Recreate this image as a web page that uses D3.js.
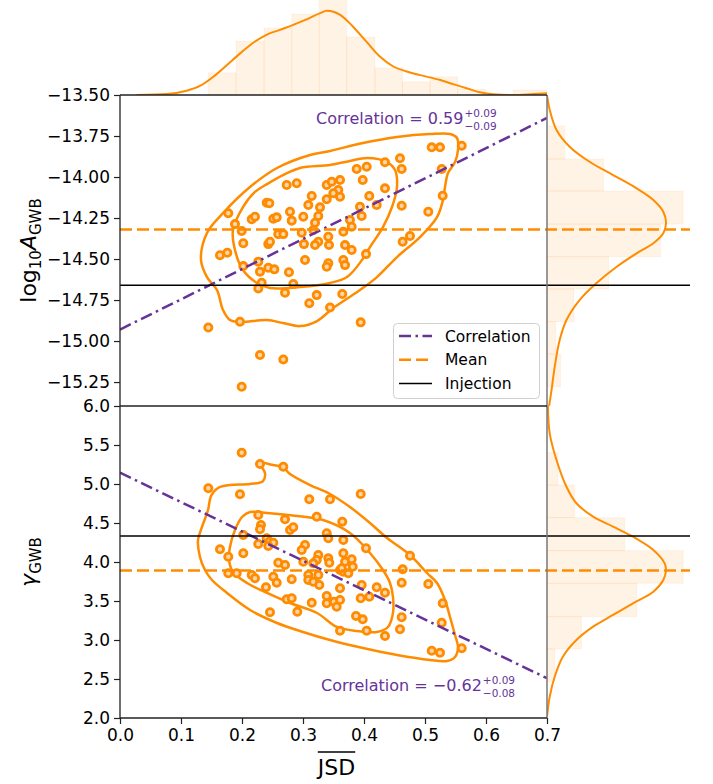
<!DOCTYPE html>
<html>
<head>
<meta charset="utf-8">
<script src="https://cdn.jsdelivr.net/npm/d3@7"></script>
<style>
  body { margin: 0; background: #fff; }
  text { font-family: "DejaVu Sans", sans-serif; }
</style>
</head>
<body>
<div id="chart"></div>
<script>
// scatter samples [JSD, value]
var topPoints = [
  [0.1775,-14.221],[0.1885,-14.287],[0.1995,-14.329],[0.2021,-14.404],[0.1639,-14.477],[0.1759,-14.462],
  [0.2021,-14.543],[0.2159,-14.258],[0.2213,-14.242],[0.2405,-14.157],[0.2448,-14.160],[0.2513,-14.254],
  [0.2569,-14.246],[0.2733,-14.049],[0.2897,-14.038],[0.2787,-14.212],[0.2815,-14.266],[0.2595,-14.348],
  [0.2677,-14.348],[0.2431,-14.409],[0.2459,-14.395],[0.2267,-14.516],[0.2295,-14.577],[0.2431,-14.553],
  [0.2530,-14.563],[0.2770,-14.581],[0.3033,-14.506],[0.3005,-14.242],[0.2979,-14.340],[0.3016,-14.409],
  [0.3143,-14.116],[0.3087,-14.171],[0.3279,-14.185],[0.3251,-14.238],[0.3197,-14.279],[0.3169,-14.323],
  [0.3251,-14.395],[0.3197,-14.415],[0.3415,-14.364],[0.3426,-14.415],[0.3389,-14.136],[0.3389,-14.049],
  [0.3470,-14.029],[0.3607,-14.018],[0.3579,-14.079],[0.3607,-14.120],[0.3661,-14.334],[0.3689,-14.415],
  [0.3661,-14.506],[0.3415,-14.526],[0.3389,-14.547],[0.2323,-14.645],[0.2267,-14.679],[0.2705,-14.706],
  [0.2841,-14.652],[0.3225,-14.720],[0.3103,-14.770],[0.3443,-14.795],[0.3644,-14.713],[0.5110,-13.819],
  [0.5246,-13.819],[0.5602,-13.809],[0.4590,-13.886],[0.4618,-13.951],[0.4344,-13.910],[0.4044,-13.937],
  [0.3880,-13.951],[0.3979,-14.018],[0.5274,-13.951],[0.4344,-14.069],[0.4087,-14.116],[0.3497,-14.099],
  [0.3934,-14.181],[0.4208,-14.171],[0.3962,-14.238],[0.4618,-14.175],[0.5290,-14.114],[0.5054,-14.212],
  [0.3770,-14.262],[0.3798,-14.303],[0.3798,-14.445],[0.3689,-14.537],[0.4033,-14.470],[0.4634,-14.395],
  [0.4754,-14.360],[0.1448,-14.917],[0.1967,-14.882],[0.2295,-15.085],[0.2677,-15.112],[0.1995,-15.279],
  [0.3946,-14.886]
];
var bottomPoints = [
  [0.1995,5.401],[0.2295,5.256],[0.2677,5.222],[0.1448,4.945],[0.1967,4.868],[0.3103,4.804],[0.3443,4.804],
  [0.2267,4.603],[0.2705,4.547],[0.3225,4.581],[0.3644,4.517],[0.2311,4.474],[0.2295,4.419],[0.2787,4.410],
  [0.2841,4.445],[0.2021,4.346],[0.3389,4.368],[0.3415,4.304],[0.3661,4.282],[0.1639,4.163],[0.1775,4.068],
  [0.2021,4.112],[0.2267,4.231],[0.2405,4.304],[0.2448,4.260],[0.2513,4.247],[0.2431,4.205],[0.3033,4.218],
  [0.2979,4.154],[0.3251,4.090],[0.3225,4.026],[0.3415,4.047],[0.3431,3.991],[0.2595,3.991],[0.2705,3.962],
  [0.3005,4.004],[0.3169,3.983],[0.3661,4.112],[0.3689,4.004],[0.3607,3.897],[0.1775,3.855],[0.1913,3.855],
  [0.2159,3.833],[0.2513,3.812],[0.2815,3.778],[0.3087,3.833],[0.3251,3.833],[0.2213,3.791],[0.2393,3.676],
  [0.2569,3.735],[0.2733,3.522],[0.2815,3.535],[0.3087,3.769],[0.3169,3.747],[0.3267,3.705],[0.2459,3.355],
  [0.2907,3.363],[0.3143,3.478],[0.3389,3.564],[0.3389,3.471],[0.3508,3.491],[0.3552,3.427],[0.3607,3.513],
  [0.3607,3.663],[0.3607,3.119],[0.3661,3.876],[0.3946,4.872],[0.4033,4.176],[0.4754,4.081],[0.3798,4.035],
  [0.3634,3.919],[0.3743,3.855],[0.3815,3.940],[0.4634,3.906],[0.4618,3.735],[0.5054,3.718],[0.3962,3.705],
  [0.4208,3.676],[0.4344,3.606],[0.3946,3.535],[0.4087,3.555],[0.3869,3.308],[0.3979,3.265],[0.4618,3.291],
  [0.4590,3.137],[0.4044,3.119],[0.4344,3.051],[0.5290,3.471],[0.5274,3.222],[0.5110,2.863],[0.5246,2.837],
  [0.5602,2.894]
];

// density contours [JSD, value]
var topOuter = [
  [0.1689,-14.220],[0.2131,-14.061],[0.2574,-13.945],[0.3115,-13.866],[0.3443,-13.841],[0.3984,-13.793],
  [0.4541,-13.756],[0.5082,-13.738],[0.5410,-13.738],[0.5525,-13.762],[0.5541,-13.835],[0.5492,-13.909],
  [0.5377,-13.976],[0.5328,-14.061],[0.5295,-14.140],[0.5197,-14.244],[0.4918,-14.366],[0.4541,-14.488],
  [0.4213,-14.610],[0.3934,-14.689],[0.3689,-14.750],[0.3475,-14.805],[0.3230,-14.878],[0.2951,-14.909],
  [0.2672,-14.890],[0.2410,-14.872],[0.1967,-14.884],[0.1803,-14.872],[0.1689,-14.811],[0.1590,-14.689],
  [0.1426,-14.610],[0.1328,-14.506],[0.1426,-14.341]
];
var topInner = [
  [0.2016,-14.183],[0.2213,-14.091],[0.2410,-14.043],[0.2672,-13.988],[0.2951,-13.945],[0.3443,-13.927],
  [0.3770,-13.902],[0.4049,-13.884],[0.4377,-13.909],[0.4508,-13.957],[0.4541,-14.061],[0.4459,-14.183],
  [0.4311,-14.305],[0.4098,-14.427],[0.3967,-14.506],[0.3721,-14.610],[0.3443,-14.646],[0.2951,-14.671],
  [0.2459,-14.677],[0.2246,-14.646],[0.2016,-14.567],[0.1885,-14.445],[0.1852,-14.323]
];
var bottomOuter = [
  [0.2295,5.269],[0.2377,5.141],[0.2344,5.038],[0.2131,5.000],[0.1803,4.987],[0.1607,4.949],[0.1492,4.846],
  [0.1443,4.667],[0.1344,4.449],[0.1279,4.282],[0.1311,4.064],[0.1393,3.897],[0.1508,3.769],[0.1754,3.603],
  [0.2131,3.385],[0.2574,3.218],[0.3000,3.103],[0.3443,3.000],[0.3984,2.897],[0.4541,2.808],[0.5082,2.744],
  [0.5361,2.731],[0.5492,2.782],[0.5541,2.910],[0.5492,3.064],[0.5410,3.295],[0.5328,3.513],[0.5197,3.731],
  [0.5033,3.859],[0.4754,4.090],[0.4377,4.308],[0.4098,4.500],[0.3770,4.705],[0.3443,4.872],[0.3115,4.987],
  [0.2787,5.128],[0.2672,5.218],[0.2508,5.244]
];
var bottomInner = [
  [0.2131,4.641],[0.2410,4.628],[0.2902,4.590],[0.3328,4.538],[0.3770,4.372],[0.4098,4.115],[0.4311,3.897],
  [0.4426,3.731],[0.4475,3.551],[0.4475,3.346],[0.4393,3.167],[0.4213,3.103],[0.3885,3.115],[0.3557,3.167],
  [0.3230,3.346],[0.2787,3.474],[0.2410,3.603],[0.2082,3.731],[0.1852,3.872],[0.1787,4.026],[0.1803,4.192],
  [0.1885,4.410],[0.2000,4.577]
];

// marginal histograms (bin edges ascending, heights)
var jsdEdges = [0.1448,0.1902,0.2361,0.2815,0.3267,0.3716,0.4180,0.4628,0.5082,0.5536,0.5995,0.6448,0.7000];
var jsdHist = [4.9,11.9,14.8,17.9,22.5,12.8,6.0,2.9,4.0,1.3,0,1.1];
var logAEdges = [-15.279,-15.079,-14.882,-14.683,-14.486,-14.287,-14.085,-13.890,-13.689];
var logAHist = [3.0,1.9,5.9,13.6,25.1,30.1,12.5,3.9];
var gammaEdges = [2.465,2.885,3.299,3.727,4.145,4.568,4.987,5.401];
var gammaHist = [1.7,7.6,19.8,30.1,17.2,6.1,2.4];

// marginal kde curves
var jsdKde = [
  [0.027,0],[0.077,0.22],[0.109,0.95],[0.131,2.0],[0.153,4.05],[0.175,6.6],[0.197,9.2],[0.219,11.6],
  [0.240,13.3],[0.262,14.4],[0.284,15.5],[0.306,16.7],[0.328,18.1],[0.339,18.6],[0.350,18.4],[0.361,17.7],
  [0.382,15.1],[0.404,11.8],[0.426,8.5],[0.448,6.3],[0.470,5.2],[0.492,4.4],[0.525,3.3],[0.546,2.4],
  [0.568,1.5],[0.590,0.6],[0.612,0.15],[0.645,0],[0.678,0.22],[0.700,0.38]
];
var logAKde = [
  [-13.5,0],[-13.591,0.6],[-13.713,2.1],[-13.815,5.0],[-13.907,9.4],[-13.988,14.6],[-14.069,19.8],
  [-14.140,23.5],[-14.212,25.7],[-14.282,26.3],[-14.343,25.7],[-14.404,23.5],[-14.465,19.8],[-14.547,15.4],
  [-14.648,10.9],[-14.750,7.2],[-14.872,4.3],[-14.994,2.8],[-15.157,1.7],[-15.299,1.0],[-15.40,0.44]
];
var gammaKde = [
  [6.0,0.2],[5.65,0.6],[5.308,2.1],[4.965,4.3],[4.753,6.5],[4.581,10.2],[4.453,14.6],[4.324,19.0],
  [4.154,23.5],[3.983,26.0],[3.897,26.3],[3.769,25.7],[3.619,23.5],[3.471,19.0],[3.321,14.6],[3.171,10.2],
  [3.0,6.5],[2.786,3.5],[2.529,1.7],[2.273,0.6],[2.017,0]
];

var meanLogA = -14.32, injLogA = -14.66;
var meanGamma = 3.89, injGamma = 4.333;
var corrTop = [[0, -14.93], [0.7, -13.64]];
var corrBottom = [[0, 5.145], [0.7, 2.51]];
var corrTopText = ["0.59", "+0.09", "\u22120.09"];
var corrBottomText = ["\u22120.62", "+0.09", "\u22120.08"];

var xTicks = [0, 0.1, 0.2, 0.3, 0.4, 0.5, 0.6, 0.7];
var logATicks = [-13.5, -13.75, -14, -14.25, -14.5, -14.75, -15, -15.25];
var gammaTicks = [2, 2.5, 3, 3.5, 4, 4.5, 5, 5.5, 6];
var legendItems = ["Correlation", "Mean", "Injection"];

var orange = "#ff8c00", purple = "#663399";
var width = 713, height = 784;
var L = 120, R = 547, T = 95, M = 406, B = 718;

var svg = d3.select("#chart").append("svg")
  .attr("width", width).attr("height", height);

var x = d3.scaleLinear().domain([0, 0.7]).range([L, R]);
var yTop = d3.scaleLinear().domain([-15.396, -13.5]).range([M, T]);
var yBot = d3.scaleLinear().domain([2, 6]).range([B, M]);
var margTop = d3.scaleLinear().domain([0, 21]).range([T, 0]);
var margRight = d3.scaleLinear().domain([0, 31.6]).range([R, 690]);

var defs = svg.append("defs");
function addClip(id, x0, y0, w, h) {
  defs.append("clipPath").attr("id", id).append("rect")
    .attr("x", x0).attr("y", y0).attr("width", w).attr("height", h);
}
addClip("cTop", L, T, R - L, M - T);
addClip("cBot", L, M, R - L, B - M);
addClip("cMargTop", L, 0, R - L, T);
addClip("cMargR1", R, T, width - R, M - T);
addClip("cMargR2", R, M, width - R, B - M);

// top marginal: JSD
var gMT = svg.append("g").attr("clip-path", "url(#cMargTop)");
gMT.selectAll("rect")
  .data(jsdHist)
  .enter()
  .append("rect")
  .attr("x", function(d, i) { return x(jsdEdges[i]); })
  .attr("width", function(d, i) { return x(jsdEdges[i + 1]) - x(jsdEdges[i]); })
  .attr("y", function(d) { return margTop(d); })
  .attr("height", function(d) { return T - margTop(d); })
  .attr("fill", orange).attr("fill-opacity", 0.1)
  .attr("stroke", orange).attr("stroke-opacity", 0.08);
gMT.append("path")
  .datum(jsdKde)
  .attr("d", d3.line().x(function(d) { return x(d[0]); }).y(function(d) { return margTop(d[1]); }).curve(d3.curveMonotoneX))
  .attr("fill", "none").attr("stroke", orange).attr("stroke-width", 2);

// right marginals
function rightMarg(clip, yScale, edges, hist, kde) {
  var g = svg.append("g").attr("clip-path", "url(#" + clip + ")");
  g.selectAll("rect")
    .data(hist)
    .enter()
    .append("rect")
    .attr("x", R)
    .attr("y", function(d, i) { return yScale(edges[i + 1]); })
    .attr("height", function(d, i) { return yScale(edges[i]) - yScale(edges[i + 1]); })
    .attr("width", function(d) { return margRight(d) - R; })
    .attr("fill", orange).attr("fill-opacity", 0.1)
    .attr("stroke", orange).attr("stroke-opacity", 0.08);
  g.append("path")
    .datum(kde)
    .attr("d", d3.line().x(function(d) { return margRight(d[1]); }).y(function(d) { return yScale(d[0]); }).curve(d3.curveCatmullRom))
    .attr("fill", "none").attr("stroke", orange).attr("stroke-width", 2);
}
rightMarg("cMargR1", yTop, logAEdges, logAHist, logAKde);
rightMarg("cMargR2", yBot, gammaEdges, gammaHist, gammaKde);

// main panels
function panel(clip, yScale, outer, inner, pts, corr) {
  var g = svg.append("g").attr("clip-path", "url(#" + clip + ")");
  var contour = d3.line()
    .x(function(d) { return x(d[0]); })
    .y(function(d) { return yScale(d[1]); })
    .curve(d3.curveCatmullRomClosed.alpha(0.5));
  g.selectAll("path.contour")
    .data([outer, inner])
    .enter()
    .append("path")
    .attr("class", "contour")
    .attr("d", contour)
    .attr("fill", "none").attr("stroke", orange).attr("stroke-width", 2.5);
  g.selectAll("circle")
    .data(pts)
    .enter()
    .append("circle")
    .attr("cx", function(d) { return x(d[0]); })
    .attr("cy", function(d) { return yScale(d[1]); })
    .attr("r", 3.6)
    .attr("fill", "#fcd6aa")
    .attr("stroke", orange).attr("stroke-width", 2.8);
  g.append("line")
    .attr("x1", x(corr[0][0])).attr("y1", yScale(corr[0][1]))
    .attr("x2", x(corr[1][0])).attr("y2", yScale(corr[1][1]))
    .attr("stroke", purple).attr("stroke-width", 2.5)
    .attr("stroke-dasharray", "12,4.5,2.5,4.5");
}
panel("cTop", yTop, topOuter, topInner, topPoints, corrTop);
panel("cBot", yBot, bottomOuter, bottomInner, bottomPoints, corrBottom);

// mean and injection lines run across the right marginals
function hline(yv, color, w, dash) {
  svg.append("line")
    .attr("x1", L).attr("x2", 690)
    .attr("y1", yv).attr("y2", yv)
    .attr("stroke", color).attr("stroke-width", w)
    .attr("stroke-dasharray", dash);
}
hline(yTop(meanLogA), orange, 2.5, "12,5");
hline(yTop(injLogA), "#000", 1.5, null);
hline(yBot(meanGamma), orange, 2.5, "12,5");
hline(yBot(injGamma), "#000", 1.5, null);

// spines
svg.append("line").attr("x1", R).attr("x2", R).attr("y1", T).attr("y2", B)
  .attr("stroke", "#777").attr("stroke-width", 1.5);
[T, M, B].forEach(function(yy) {
  svg.append("line").attr("x1", L).attr("x2", R).attr("y1", yy).attr("y2", yy)
    .attr("stroke", "#222").attr("stroke-width", 1.3);
});
svg.append("line").attr("x1", L).attr("x2", L).attr("y1", T).attr("y2", B)
  .attr("stroke", "#222").attr("stroke-width", 1.3);

// axes
function styleAxis(g) {
  g.select(".domain").remove();
  g.selectAll(".tick line").attr("stroke", "#222").attr("stroke-width", 1.2);
  g.selectAll(".tick text").attr("font-size", 17).attr("fill", "#000")
    .attr("font-family", "DejaVu Sans, sans-serif");
}
svg.append("g").attr("transform", "translate(" + L + ",0)")
  .call(d3.axisLeft(yTop).tickValues(logATicks).tickFormat(d3.format(".2f")).tickSize(6).tickPadding(4))
  .call(styleAxis);
svg.append("g").attr("transform", "translate(" + L + ",0)")
  .call(d3.axisLeft(yBot).tickValues(gammaTicks).tickFormat(d3.format(".1f")).tickSize(6).tickPadding(4))
  .call(styleAxis);
svg.append("g").attr("transform", "translate(0," + B + ")")
  .call(d3.axisBottom(x).tickValues(xTicks).tickFormat(d3.format(".1f")).tickSize(6).tickPadding(5))
  .call(styleAxis);

// axis labels
var yl1 = svg.append("text")
  .attr("transform", "translate(36," + ((T + M) / 2) + ") rotate(-90)")
  .attr("text-anchor", "middle").attr("font-size", 22);
yl1.append("tspan").text("log");
yl1.append("tspan").attr("font-size", 15).attr("dy", 5).text("10");
yl1.append("tspan").attr("font-style", "italic").attr("dy", -5).text("A");
yl1.append("tspan").attr("font-size", 15).attr("dy", 5).text("GWB");

var yl2 = svg.append("text")
  .attr("transform", "translate(36," + ((M + B) / 2) + ") rotate(-90)")
  .attr("text-anchor", "middle").attr("font-size", 22);
yl2.append("tspan").attr("font-style", "italic").text("\u03b3");
yl2.append("tspan").attr("font-size", 15).attr("dy", 5).text("GWB");

var xl = svg.append("text")
  .attr("x", (L + R) / 2 + 3).attr("y", 775)
  .attr("text-anchor", "middle").attr("font-size", 22).text("JSD");
var xlw = xl.node().getComputedTextLength();
svg.append("line")
  .attr("x1", (L + R) / 2 + 3 - xlw / 2).attr("x2", (L + R) / 2 + 3 + xlw / 2)
  .attr("y1", 752).attr("y2", 752)
  .attr("stroke", "#000").attr("stroke-width", 1.3);

// correlation annotations: value with stacked upper/lower errors
function corrLabel(x0, y0, parts) {
  var t = svg.append("text").attr("x", x0).attr("y", y0)
    .attr("font-size", 16).attr("fill", purple)
    .text("Correlation = " + parts[0]);
  var w = t.node().getComputedTextLength();
  svg.append("text").attr("x", x0 + w + 1).attr("y", y0 - 7)
    .attr("font-size", 10.5).attr("fill", purple).text(parts[1]);
  svg.append("text").attr("x", x0 + w + 1).attr("y", y0 + 5.5)
    .attr("font-size", 10.5).attr("fill", purple).text(parts[2]);
}
corrLabel(316, 124, corrTopText);
corrLabel(321, 691, corrBottomText);

// legend
var lg = svg.append("g");
lg.append("rect")
  .attr("x", 393.5).attr("y", 323.5).attr("width", 146).attr("height", 75)
  .attr("rx", 4).attr("fill", "#fff").attr("fill-opacity", 0.8)
  .attr("stroke", "#d0d0d0").attr("stroke-width", 1);
var legStyles = [
  { c: purple, w: 2.5, dash: "12,4.5,2.5,4.5" },
  { c: orange, w: 2.5, dash: "12,5" },
  { c: "#000", w: 1.5, dash: null }
];
lg.selectAll("line.leg")
  .data(legendItems)
  .enter()
  .append("line")
  .attr("class", "leg")
  .attr("x1", 399).attr("x2", 432)
  .attr("y1", function(d, i) { return 336 + i * 23.7; })
  .attr("y2", function(d, i) { return 336 + i * 23.7; })
  .attr("stroke", function(d, i) { return legStyles[i].c; })
  .attr("stroke-width", function(d, i) { return legStyles[i].w; })
  .attr("stroke-dasharray", function(d, i) { return legStyles[i].dash; });
lg.selectAll("text")
  .data(legendItems)
  .enter()
  .append("text")
  .attr("x", 445)
  .attr("y", function(d, i) { return 341.5 + i * 23.7; })
  .attr("font-size", 15.5)
  .text(function(d) { return d; });
</script>
</body>
</html>
